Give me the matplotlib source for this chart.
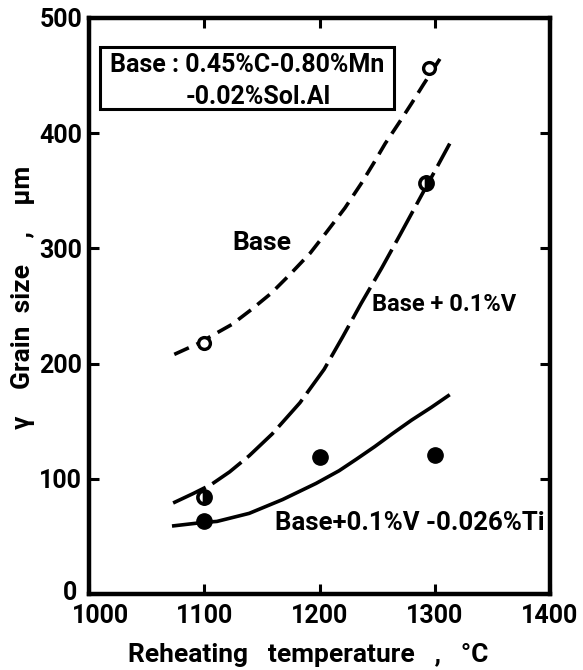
import matplotlib
matplotlib.use("Agg")
import matplotlib.pyplot as plt
import matplotlib.transforms as mtransforms
from matplotlib.patches import Rectangle

plt.rcParams['font.family'] = ['Roboto', 'DejaVu Sans']
plt.rcParams['font.weight'] = 'bold'
plt.rcParams['lines.scale_dashes'] = False

# ---- data ----
base_curve_x = [1074, 1096, 1108, 1124, 1141, 1158, 1174, 1192, 1206, 1222, 1236, 1247, 1257, 1269, 1280, 1290, 1308]
base_curve_y = [208, 218, 225, 234, 247, 261, 277, 296, 314, 335, 356, 374, 391, 409, 426, 442, 470]
base_pts_x = [1100, 1295]
base_pts_y = [218, 457]

v_curve_x = [1073, 1090, 1106, 1122, 1139, 1159, 1183, 1204, 1220, 1236, 1254, 1270, 1289, 1300, 1313]
v_curve_y = [79, 87, 95, 106, 120, 139, 166, 195, 223, 252, 283, 312, 347, 367, 391]
v_pts_x = [1100, 1292]
v_pts_y = [84, 357]

ti_curve_x = [1072, 1098, 1111, 1139, 1168, 1197, 1217, 1232, 1248, 1263, 1280, 1297, 1313]
ti_curve_y = [59, 62, 63, 70, 82, 96, 107, 117, 128, 139, 151, 162, 173]
ti_pts_x = [1100, 1200, 1300]
ti_pts_y = [63, 119, 121]

x_ticks = [1000, 1100, 1200, 1300, 1400]
y_ticks = [0, 100, 200, 300, 400, 500]

fig = plt.figure(figsize=(5.83, 6.70), dpi=100)
ax = fig.add_axes([89/583, 76/670, 461/583, 576/670])

lw = 2.6
ax.plot(base_curve_x, base_curve_y, color='black', lw=lw, dashes=(11.5, 6),
        dash_capstyle='butt', dash_joinstyle='round')
ax.plot(v_curve_x, v_curve_y, color='black', lw=lw, dashes=(26, 5.5),
        dash_capstyle='butt', dash_joinstyle='round')
ax.plot(ti_curve_x, ti_curve_y, color='black', lw=lw, solid_capstyle='butt',
        solid_joinstyle='round')

ax.plot(base_pts_x, base_pts_y, 'o', ms=8.5, mfc='white', mec='black', mew=2.4, zorder=5)
ax.plot(v_pts_x, v_pts_y, 'o', ms=9.5, fillstyle='right', mfc='black', mfcalt='white',
        mec='black', mew=2.6, zorder=5)
ax.plot(ti_pts_x, ti_pts_y, 'o', ms=11, mfc='black', mec='black', zorder=5)

ax.set_xlim(1000, 1400)
ax.set_ylim(0, 500)
ax.set_xticks(x_ticks)
ax.set_yticks(y_ticks)
ax.tick_params(direction='in', length=7.5, width=2.2, top=True, right=True,
               labelsize=18, pad=5)
ax.tick_params(axis='x', pad=7.5)
for lab in ax.get_xticklabels() + ax.get_yticklabels():
    lab.set_fontweight('bold')
for s in ax.spines.values():
    s.set_linewidth(3.2)

# corner labels are nudged apart as in the reference
shift_x = mtransforms.ScaledTranslation(11/100, 0, fig.dpi_scale_trans)
first_x = ax.xaxis.get_major_ticks()[0].label1
first_x.set_transform(first_x.get_transform() + shift_x)
shift_y = mtransforms.ScaledTranslation(-5/100, 4/100, fig.dpi_scale_trans)
first_y = ax.yaxis.get_major_ticks()[0].label1
first_y.set_transform(first_y.get_transform() + shift_y)

# legend box
ax.add_patch(Rectangle((0.024, 0.842), 0.638, 0.108, transform=ax.transAxes,
                       fill=False, lw=2.2, ec='black', zorder=6))
ax.text(0.343, 0.918, 'Base : 0.45%C-0.80%Mn', transform=ax.transAxes,
        ha='center', va='center', fontsize=18, fontweight='bold')
ax.text(0.367, 0.862, '-0.02%Sol.Al', transform=ax.transAxes,
        ha='center', va='center', fontsize=18, fontweight='bold')

ax.text(1150, 305, 'Base', ha='center', va='center', fontsize=19, fontweight='bold')
ax.text(1308, 251, 'Base + 0.1%V', ha='center', va='center', fontsize=17, fontweight='bold')
ax.text(1278, 61.5, 'Base+0.1%V -0.026%Ti', ha='center', va='center', fontsize=18.5,
        fontweight='bold')

fig.text(308/583, 1 - 655/670, 'Reheating   temperature   ,   °C', ha='center', va='center',
         fontsize=19, fontweight='bold')
fig.text(23/583, 1 - 297/670, 'γ    Grain  size    ,    μm', ha='center', va='center',
         rotation=90, fontsize=19, fontweight='bold')

fig.savefig('out.png', dpi=100)
